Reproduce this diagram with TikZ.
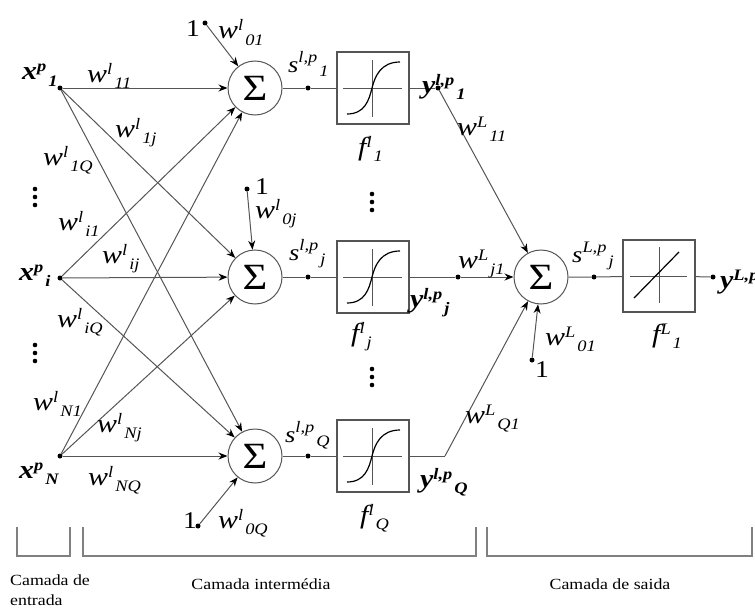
\documentclass[tikz,border=0pt]{standalone}
\usepackage{fontspec}
\setmainfont[FakeStretch=1.15]{Liberation Serif}
\usetikzlibrary{arrows.meta}

% label built as base, then superscript, then subscript, one after another
\newcommand\bsz{\fontsize{26}{26}\selectfont}
\newcommand\ssz{\fontsize{16}{16}\selectfont}
\newcommand\lbl[3]{{\bsz #1}\raisebox{8pt}{\ssz #2}\hspace{2pt}\raisebox{-6pt}{\ssz #3}}
\newcommand\slbl[3]{{\fontsize{23}{23}\selectfont #1}\raisebox{10pt}{\fontsize{16}{16}\selectfont #2}\hspace{2pt}\raisebox{-4pt}{\fontsize{16}{16}\selectfont #3}}

\definecolor{edge}{HTML}{555555}
\definecolor{brk}{HTML}{808080}

\tikzset{
  sigm/.pic={
    \draw[edge,line width=1pt] (-30,0) -- (29,0) (-1,-28) -- (-1,29);
    \draw[black,line width=1.2pt] (-26,26) .. controls (-8,26) and (-4,12) .. (-1,0)
      .. controls (2,-12) and (8,-26) .. (27,-26);
  },
  linr/.pic={
    \draw[edge,line width=1pt] (-29,0) -- (28,0) (0,-29) -- (0,27);
    \draw[black,line width=1.2pt] (-25,22) -- (20,-24);
  }
}

\begin{document}
\begin{tikzpicture}[x=1pt,y=-1pt,
  ln/.style={draw=edge,line width=1pt},
  arr/.style={ln,-{Stealth[length=9pt,width=7pt,color=black]}},
  dot/.style={circle,fill=black,inner sep=0pt,minimum size=5pt},
  sumnode/.style={circle,draw=edge,line width=1pt,minimum size=54pt,inner sep=0pt,
    font=\fontsize{37}{37}\selectfont},
  actbox/.style={draw=edge,line width=1.2pt,minimum size=72pt,inner sep=0pt},
  lab/.style={anchor=base west,inner sep=0pt,font=\itshape},
  blab/.style={anchor=base west,inner sep=0pt,font=\bfseries\itshape},
  one/.style={anchor=base west,inner sep=0pt,font=\fontsize{24}{24}\selectfont},
  layercap/.style={anchor=base,inner sep=0pt,font=\fontsize{15.5}{15.5}\selectfont},
  bracket/.style={draw=brk,line width=1.2pt}
]
\useasboundingbox (0,0) rectangle (755,610);

% input points
\node[dot] (x1) at (60,88) {};
\node[dot] (xi) at (60,278) {};
\node[dot] (xN) at (60,456) {};

% hidden-layer summing junctions
\node[sumnode] (s1) at (255,88) {Σ};
\node[sumnode] (sj) at (255,277) {Σ};
\node[sumnode] (sQ) at (255,456) {Σ};

% bias inputs
\node[dot] (b1) at (205,23) {};
\node[dot] (bj) at (247,189) {};
\node[dot] (bQ) at (198,526) {};

% summed signals
\node[dot] (d1) at (308,88) {};
\node[dot] (dj) at (308,277) {};
\node[dot] (dQ) at (308,456) {};

% activation boxes
\node[actbox] (f1) at (373,88) {};
\node[actbox] (fj) at (373,277) {};
\node[actbox] (fQ) at (373,456) {};
\pic at (f1) {sigm};
\pic at (fj) {sigm};
\pic at (fQ) {sigm};

% hidden outputs
\node[dot] (o1) at (438,88) {};
\node[dot] (oj) at (458,277) {};
\coordinate (oQ) at (445,456);

% output neuron
\node[sumnode] (so) at (541,277) {Σ};
\node[dot] (bo) at (532,360) {};
\node[dot] (dso) at (594,277) {};
\node[actbox] (fo) at (659,276) {};
\pic at (fo) {linr};
\node[dot] (yo) at (713,277) {};

% full connections input -> hidden
\foreach \a in {x1,xi,xN}
  \foreach \b in {s1,sj,sQ}
    \draw[arr] (\a) -- (\b);

\draw[arr] (b1) -- (s1);
\draw[arr] (bj) -- (sj);
\draw[arr] (bQ) -- (sQ);

\draw[ln] (s1) -- (d1) -- (f1);
\draw[ln] (sj) -- (dj) -- (fj);
\draw[ln] (sQ) -- (dQ) -- (fQ);

\draw[ln] (f1) -- (o1);
\draw[ln] (fj) -- (oj);
\draw[ln] (fQ.east) -- (oQ);
\draw[arr] (o1) -- (so);
\draw[arr] (oj) -- (so);
\draw[arr] (oQ) -- (so);

\draw[arr] (bo) -- (so);
\draw[ln] (so) -- (dso) -- (fo);
\draw[ln] (fo) -- (yo);

% vertical ellipses
\foreach \y in {189,197,205,345,353,361} \fill (35,\y) circle (2.3);
\foreach \y in {194,202,210,369,377,385} \fill (372,\y) circle (2.3);

% input labels
\node[blab] (lx1) at (22,80) {\lbl{x}{p}{1}};
\node[blab] (lxi) at (19,280) {\lbl{x}{p}{i}};
\node[blab] (lxN) at (19,478) {\lbl{x}{p}{N}};

% input weights
\node[lab] (w11) at (87,82) {\lbl{w}{l}{11}};
\node[lab] (w1j) at (115,137) {\lbl{w}{l}{1j}};
\node[lab] (w1Q) at (43,165) {\lbl{w}{l}{1Q}};
\node[lab] (wi1) at (58,230) {\lbl{w}{l}{i1}};
\node[lab] (wij) at (102,263) {\lbl{w}{l}{ij}};
\node[lab] (wiQ) at (57,327) {\lbl{w}{l}{iQ}};
\node[lab] (wN1) at (33,410) {\lbl{w}{l}{N1}};
\node[lab] (wNj) at (97,432) {\lbl{w}{l}{Nj}};
\node[lab] (wNQ) at (88,485) {\lbl{w}{l}{NQ}};

% biases
\node[one] (one1) at (186,37) {1};
\node[one] (onej) at (255,194) {1};
\node[one] (oneQ) at (183,528) {1};
\node[one] (oneo) at (535,377) {1};
\node[lab] (w01) at (218,39) {\lbl{w}{l}{01}};
\node[lab] (w0j) at (255,218) {\lbl{w}{l}{0j}};
\node[lab] (w0Q) at (218,528) {\lbl{w}{l}{0Q}};
\node[lab] (wo01) at (545,345) {\lbl{w}{L}{01}};

% sums and activations
\node[lab] (ls1) at (288,73) {\slbl{s}{l,p}{1}};
\node[lab] (lsj) at (289,260) {\slbl{s}{l,p}{j}};
\node[lab] (lsQ) at (285,442) {\slbl{s}{l,p}{Q}};
\node[lab] (lf1) at (358,155) {\lbl{f}{l}{1}};
\node[lab] (lfj) at (351,341) {\lbl{f}{l}{j}};
\node[lab] (lfQ) at (360,523) {\lbl{f}{l}{Q}};

% hidden outputs
\node[blab] (ly1) at (422,93) {\lbl{y}{l,p}{1}};
\node[blab] (lyj) at (410,307) {\lbl{y}{l,p}{j}};
\node[blab] (lyQ) at (420,487) {\lbl{y}{l,p}{Q}};

% output weights
\node[lab] (wL11) at (457,135) {\lbl{w}{L}{11}};
\node[lab] (wLj1) at (458,268) {\lbl{w}{L}{j1}};
\node[lab] (wLQ1) at (465,423) {\lbl{w}{L}{Q1}};

% output neuron labels
\node[lab] (lso) at (572,262) {\slbl{s}{L,p}{j}};
\node[lab] (lfo) at (652,342) {\lbl{f}{L}{1}};
\node[blab] (lyo) at (720,288) {\lbl{y}{L,p}{}};

% layer brackets
\draw[bracket] (17,527) -- (17,556) -- (70,556) -- (70,527);
\draw[bracket] (83,527) -- (83,556) -- (476,556) -- (476,527);
\draw[bracket] (487,527) -- (487,556) -- (752,556) -- (752,527);

\node[layercap,anchor=base west] (c1) at (10,585) {Camada de};
\node[layercap,anchor=base west] (c1b) at (10,605) {entrada};
\node[layercap] (c2) at (261,589) {Camada intermédia};
\node[layercap] (c3) at (610,589) {Camada de saida};
\end{tikzpicture}
\end{document}
